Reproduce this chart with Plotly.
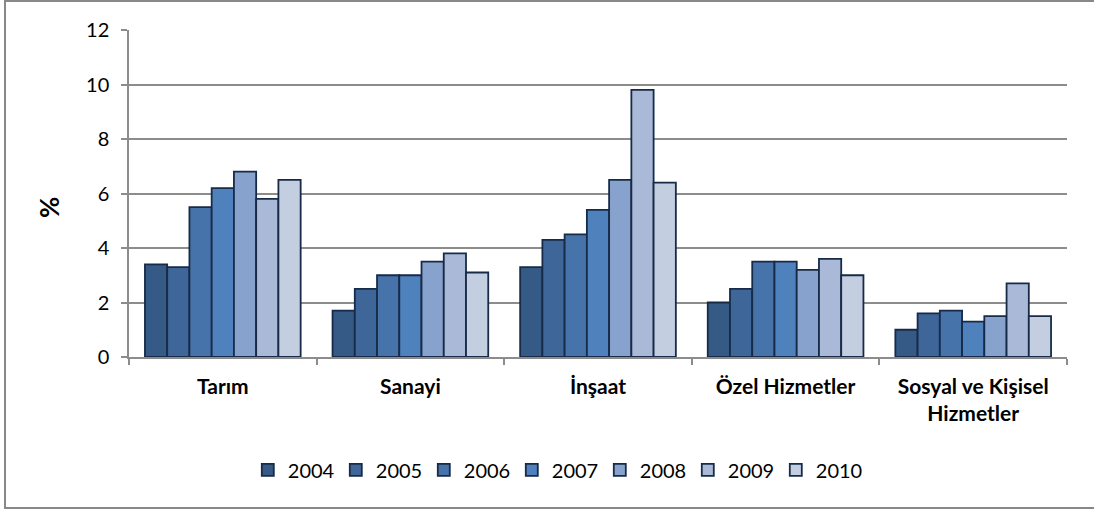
import plotly.graph_objects as go

# Sectors on the category axis
categories = ["Tarım", "Sanayi", "İnşaat", "Özel Hizmetler", "Sosyal ve Kişisel<br>Hizmetler"]

# Yearly values (%) per sector
years = ["2004", "2005", "2006", "2007", "2008", "2009", "2010"]
v2004 = [3.4, 1.7, 3.3, 2.0, 1.0]
v2005 = [3.3, 2.5, 4.3, 2.5, 1.6]
v2006 = [5.5, 3.0, 4.5, 3.5, 1.7]
v2007 = [6.2, 3.0, 5.4, 3.5, 1.3]
v2008 = [6.8, 3.5, 6.5, 3.2, 1.5]
v2009 = [5.8, 3.8, 9.8, 3.6, 2.7]
v2010 = [6.5, 3.1, 6.4, 3.0, 1.5]
series = [v2004, v2005, v2006, v2007, v2008, v2009, v2010]

colors = ["#355A85", "#3E6699", "#4673AA", "#4F81BD", "#87A2CC", "#AAB9D7", "#C4CEE1"]
outline = "#172B48"

y_ticks = [0, 2, 4, 6, 8, 10, 12]

FONT = "Lato, 'Open Sans', sans-serif"

fig = go.Figure()
for name, vals, col in zip(years, series, colors):
    fig.add_trace(go.Bar(
        x=categories, y=vals, name=name,
        marker=dict(color=col, line=dict(color=outline, width=1.8)),
    ))

W, H = 1094, 510
ml, mr, mt, mb = 129, 27, 30, 153
pw, ph = W - ml - mr, H - mt - mb

fig.update_layout(
    width=W, height=H,
    margin=dict(l=ml, r=mr, t=mt, b=mb),
    paper_bgcolor="white", plot_bgcolor="white",
    barmode="group", bargap=0.17, bargroupgap=0,
    font=dict(family=FONT, size=20, color="#000000"),
    showlegend=True,
    legend=dict(
        orientation="h", x=0.455, xanchor="center", y=-0.345, yanchor="middle",
        font=dict(family=FONT, size=20, color="#000000"),
        traceorder="normal", itemwidth=30,
        entrywidth=43, entrywidthmode="pixels",
    ),
    xaxis=dict(
        type="category", showline=True, linecolor="#8C8C8C", linewidth=1.5,
        ticks="outside", tickson="boundaries", ticklen=6, tickcolor="#8C8C8C", tickwidth=1.5,
        tickfont=dict(family=FONT, size=21, color="#000000", weight="bold"),
        ticklabelstandoff=10,
        showgrid=False,
    ),
    yaxis=dict(
        range=[0, 12], tickvals=y_ticks, ticktext=[str(t) for t in y_ticks],
        showline=True, linecolor="#8C8C8C", linewidth=1.5,
        ticks="outside", ticklen=6, tickcolor="#8C8C8C", tickwidth=1.5,
        showgrid=True, gridcolor="#8C8C8C", gridwidth=1.5,
        zeroline=False,
        tickfont=dict(family=FONT, size=20, color="#000000"),
        ticklabelstandoff=8,
    ),
)

# Y axis title
fig.add_annotation(
    text="<b>%</b>", xref="paper", yref="paper",
    x=(49 - ml) / pw, y=(H - mb - 208) / ph,
    xanchor="center", yanchor="middle", textangle=-90, showarrow=False,
    font=dict(family=FONT, size=26, color="#000000"),
)

# Chart frame
fig.add_shape(
    type="rect", xref="paper", yref="paper",
    x0=(5 - ml) / pw, x1=(W + 6 - ml) / pw,
    y0=(H - mb - 508) / ph, y1=(H - mb - 1) / ph,
    line=dict(color="#888888", width=2), fillcolor="rgba(0,0,0,0)", layer="below",
)

fig.write_html("out.html")
